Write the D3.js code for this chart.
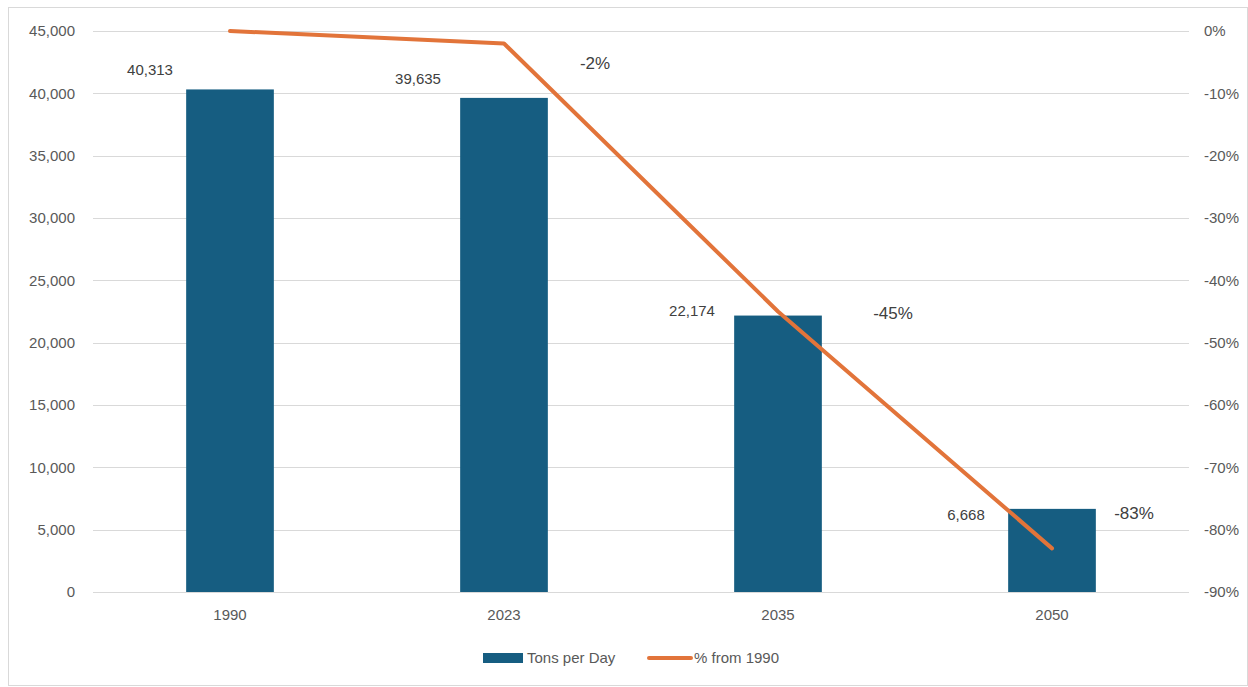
<!DOCTYPE html>
<html>
<head>
<meta charset="utf-8">
<script src="https://cdn.jsdelivr.net/npm/d3@7"></script>
<style>
  body { margin: 0; background: #fff; }
  svg text { font-family: "Liberation Sans", Arial, sans-serif; }
</style>
</head>
<body>
<div id="chart"></div>
<script>
// chart data
const years = ["1990", "2023", "2035", "2050"];
const tonsPerDay = [40313, 39635, 22174, 6668];
const pctFrom1990 = [0, -0.02, -0.45, -0.83];
const pctLabels = [null, "-2%", "-45%", "-83%"];
const leftTicks = [0, 5000, 10000, 15000, 20000, 25000, 30000, 35000, 40000, 45000];
const rightTicks = [0, -0.1, -0.2, -0.3, -0.4, -0.5, -0.6, -0.7, -0.8, -0.9];

const width = 1248;
const height = 687;
const plot = { left: 93, right: 1189, top: 31, bottom: 592 };

const barColor = "#165d81";
const lineColor = "#e2743a";

const svg = d3
  .select("#chart")
  .append("svg")
  .attr("width", width)
  .attr("height", height);

// outer frame
svg
  .append("rect")
  .attr("x", 8.5)
  .attr("y", 7.5)
  .attr("width", width - 9)
  .attr("height", height - 9)
  .attr("fill", "#fff")
  .attr("stroke", "#d9d9d9");

const x = d3
  .scaleBand()
  .domain(years)
  .range([plot.left, plot.right])
  .paddingInner(0.68)
  .paddingOuter(0.34);

const yLeft = d3
  .scaleLinear()
  .domain([0, 45000])
  .range([plot.bottom, plot.top]);

const yRight = d3
  .scaleLinear()
  .domain([-0.9, 0])
  .range([plot.bottom, plot.top]);

const center = (d) => x(d) + x.bandwidth() / 2;

// gridlines
svg
  .append("g")
  .selectAll("line")
  .data(leftTicks)
  .join("line")
  .attr("x1", plot.left)
  .attr("x2", plot.right)
  .attr("y1", (d) => Math.round(yLeft(d)) + 0.5)
  .attr("y2", (d) => Math.round(yLeft(d)) + 0.5)
  .attr("stroke", "#d9d9d9")
  .attr("stroke-width", 1);

// left axis
const leftAxis = svg
  .append("g")
  .attr("transform", `translate(${plot.left - 18}, 0)`)
  .call(
    d3.axisLeft(yLeft)
      .tickValues(leftTicks)
      .tickSize(0)
      .tickPadding(0)
      .tickFormat(d3.format(","))
  );
leftAxis.select(".domain").remove();
leftAxis
  .selectAll("text")
  .attr("fill", "#595959")
  .style("font-size", "15px");

// right axis
const rightAxis = svg
  .append("g")
  .attr("transform", `translate(${plot.right + 15}, 0)`)
  .call(
    d3.axisRight(yRight)
      .tickValues(rightTicks)
      .tickSize(0)
      .tickPadding(0)
      .tickFormat((d) => Math.round(d * 100) + "%")
  );
rightAxis.select(".domain").remove();
rightAxis
  .selectAll("text")
  .attr("fill", "#595959")
  .style("font-size", "15px");

// bottom axis
const bottomAxis = svg
  .append("g")
  .attr("transform", `translate(0, ${plot.bottom})`)
  .call(d3.axisBottom(x).tickSize(0).tickPadding(17));
bottomAxis.select(".domain").remove();
bottomAxis
  .selectAll("text")
  .attr("fill", "#595959")
  .style("font-size", "15px");

// bars
svg
  .append("g")
  .selectAll("rect")
  .data(years)
  .join("rect")
  .attr("x", (d) => x(d))
  .attr("y", (d, i) => yLeft(tonsPerDay[i]))
  .attr("width", x.bandwidth())
  .attr("height", (d, i) => plot.bottom - yLeft(tonsPerDay[i]))
  .attr("fill", barColor);

// bar value labels (manually nudged like the original)
const barLabelShift = [[-80, -14], [-86, -14], [-86, 0], [-86, 11]];
svg
  .append("g")
  .selectAll("text")
  .data(years)
  .join("text")
  .attr("x", (d, i) => center(d) + barLabelShift[i][0])
  .attr("y", (d, i) => yLeft(tonsPerDay[i]) + barLabelShift[i][1])
  .attr("text-anchor", "middle")
  .attr("fill", "#404040")
  .style("font-size", "15px")
  .text((d, i) => d3.format(",")(tonsPerDay[i]));

// percent line
const line = d3
  .line()
  .x((d, i) => center(years[i]))
  .y((d) => yRight(d));

svg
  .append("path")
  .datum(pctFrom1990)
  .attr("fill", "none")
  .attr("stroke", lineColor)
  .attr("stroke-width", 4)
  .attr("stroke-linecap", "round")
  .attr("stroke-linejoin", "round")
  .attr("d", line);

// percent labels
const pctLabelShift = [[0, 0], [91, 26], [115, 7], [82, -29]];
svg
  .append("g")
  .selectAll("text")
  .data(years)
  .join("text")
  .filter((d, i) => pctLabels[i] !== null)
  .attr("x", (d) => center(d) + pctLabelShift[years.indexOf(d)][0])
  .attr("y", (d) => yRight(pctFrom1990[years.indexOf(d)]) + pctLabelShift[years.indexOf(d)][1])
  .attr("text-anchor", "middle")
  .attr("fill", "#404040")
  .style("font-size", "17px")
  .text((d) => pctLabels[years.indexOf(d)]);

// legend
const legend = svg.append("g").attr("transform", "translate(483, 658)");
legend
  .append("rect")
  .attr("x", 0)
  .attr("y", -5)
  .attr("width", 40)
  .attr("height", 10)
  .attr("fill", barColor);
legend
  .append("text")
  .attr("x", 44)
  .attr("y", 5)
  .attr("fill", "#595959")
  .style("font-size", "15px")
  .text("Tons per Day");
legend
  .append("line")
  .attr("x1", 166)
  .attr("x2", 208)
  .attr("y1", 0)
  .attr("y2", 0)
  .attr("stroke", lineColor)
  .attr("stroke-width", 4)
  .attr("stroke-linecap", "round");
legend
  .append("text")
  .attr("x", 211)
  .attr("y", 5)
  .attr("fill", "#595959")
  .style("font-size", "15px")
  .text("% from 1990");
</script>
</body>
</html>
